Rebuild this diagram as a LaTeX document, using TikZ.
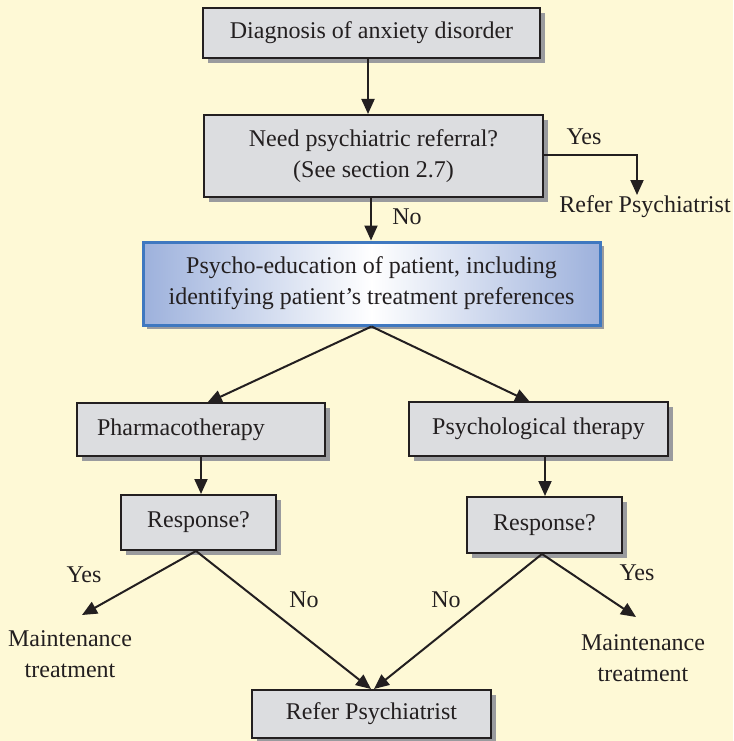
\documentclass[tikz,border=0pt]{standalone}
\usepackage{fontspec}
\setmainfont{Liberation Serif}
\usetikzlibrary{arrows.meta,shadows}
\definecolor{bgyellow}{HTML}{FEF9D6}
\definecolor{boxgray}{HTML}{DCDDE0}
\definecolor{shadowgray}{HTML}{9A9B9E}
\definecolor{txt}{HTML}{231F20}
\definecolor{blueedge}{HTML}{3F78C0}
\definecolor{bluefill}{HTML}{9DB1DC}
\tikzset{
  every node/.style={font=\fontsize{24}{31}\selectfont, text=txt},
  graybox/.style={draw=txt, line width=2pt, fill=boxgray, align=center, inner sep=0pt,
    drop shadow={shadow xshift=5pt, shadow yshift=-5pt, fill=shadowgray, opacity=1}},
  bluebox/.style={draw=blueedge, line width=3pt, left color=bluefill, right color=bluefill, middle color=white,
    align=center, inner sep=0pt,
    drop shadow={shadow xshift=4pt, shadow yshift=-4pt, fill=shadowgray, opacity=1}},
  plain/.style={align=center, inner sep=0pt},
  conn/.style={draw=txt, line width=2pt, -{Triangle[length=15pt,width=13pt]}},
}
\begin{document}
\begin{tikzpicture}[x=1pt, y=-1pt]
\fill[bgyellow] (0,0) rectangle (733,741);
\useasboundingbox (0,0) rectangle (733,741);

\node[graybox, minimum width=337pt, minimum height=50pt] (diag) at (371.5,33) {Diagnosis of anxiety disorder};
\node[graybox, minimum width=339pt, minimum height=82pt] (need) at (373.5,156) {Need psychiatric referral?\\(See section 2.7)};
\node[bluebox, minimum width=457pt, minimum height=83pt] (edu) at (371.5,283.5) {Psycho-education of patient, including\\identifying patient’s treatment preferences};
\node[graybox, minimum width=248pt, minimum height=53pt, text width=208pt, inner xsep=20pt, align=left] (pharma) at (201,429.5) {Pharmacotherapy};
\node[graybox, minimum width=259pt, minimum height=54pt] (psych) at (538.5,429) {Psychological therapy};
\node[graybox, minimum width=155pt, minimum height=55pt] (respL) at (198.5,522.5) {Response?};
\node[graybox, minimum width=155pt, minimum height=56pt] (respR) at (544.5,525) {Response?};
\node[graybox, minimum width=239pt, minimum height=48pt] (refer) at (371.5,714) {Refer Psychiatrist};

\node[plain, anchor=north] (referTop) at (645,195) {Refer Psychiatrist};
\node[plain] (maintL) at (70,654) {Maintenance\\treatment};
\node[plain] (maintR) at (643,658) {Maintenance\\treatment};

\coordinate (yesCorner) at (637,155);
\coordinate (maintLtip) at (82,615);
\coordinate (maintRtip) at (636,617);

\draw[conn] (diag.south -| 368,0) -- (need.north -| 368,0);
\draw[conn] (need.south -| 371,0) -- (edu.north -| 371,0);
\node[plain] (noTop) at (407,217) {No};
\draw[conn] (need.east |- yesCorner) -- (yesCorner) -- (referTop.north -| yesCorner);
\node[plain] (yesTop) at (584,137) {Yes};

\draw[conn] (edu.south) -- (207,403);
\draw[conn] (edu.south) -- (530,402);
\draw[conn] (pharma.south -| 201,0) -- (respL.north -| 201,0);
\draw[conn] (psych.south -| 545,0) -- (respR.north -| 545,0);

\draw[conn] (respL.south -| 196,0) -- (maintLtip);
\draw[conn] (respL.south -| 196,0) -- (refer.north -| 371,0);
\draw[conn] (respR.south -| 542,0) -- (refer.north -| 374,0);
\draw[conn] (respR.south -| 542,0) -- (maintRtip);

\node[plain] (yesL) at (84,575) {Yes};
\node[plain] (noL) at (304,600) {No};
\node[plain] (noR) at (446,600) {No};
\node[plain] (yesR) at (637,573) {Yes};
\end{tikzpicture}
\end{document}
